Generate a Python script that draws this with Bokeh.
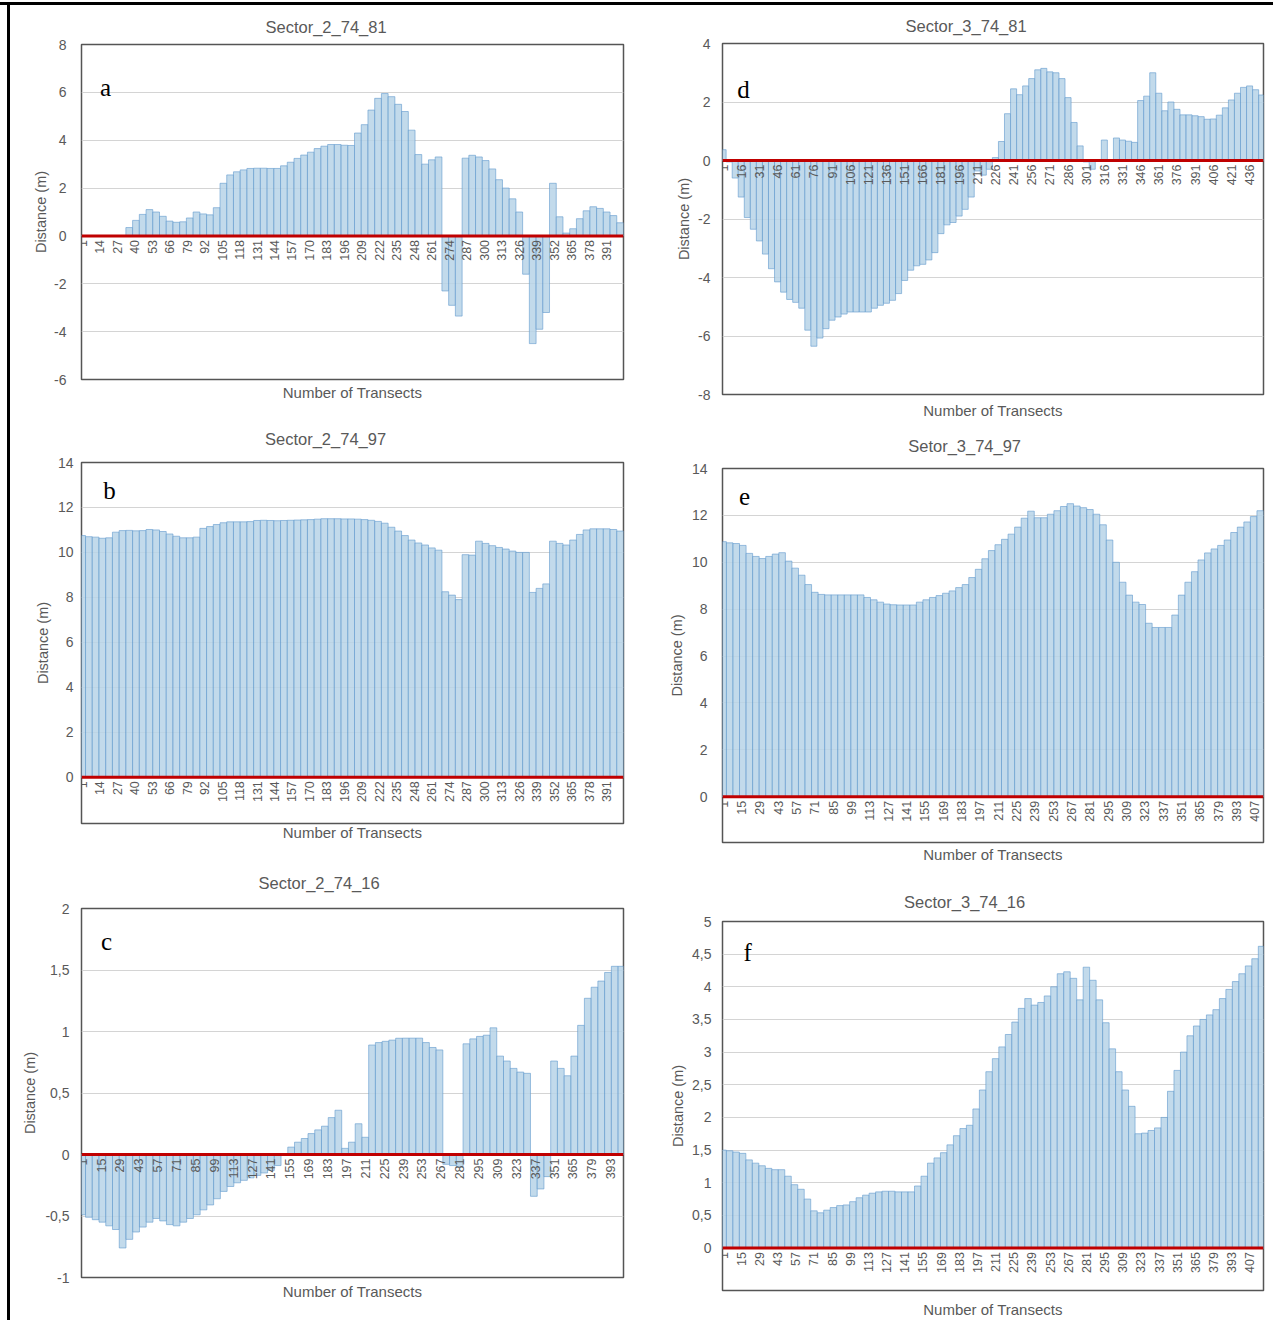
from math import pi
from bokeh.plotting import figure
from bokeh.layouts import row, column
from bokeh.models import FixedTicker, CustomJSTickFormatter, Span, Label, Div, Spacer
from bokeh.core.properties import value
from bokeh.embed import file_html
from bokeh.resources import INLINE

# ---------------- data (value read every 5th transect) ----------------
a_transects = list(range(1, 402, 5))
a_distance = [0, 0, 0, 0, 0, 0, 0.0, 0.35, 0.65, 0.9,
              1.1, 1.0, 0.82, 0.62, 0.57, 0.59, 0.75, 1.0, 0.92, 0.88,
              1.18, 2.2, 2.55, 2.68, 2.76, 2.82, 2.83, 2.83, 2.82, 2.82,
              2.93, 3.08, 3.24, 3.38, 3.5, 3.65, 3.75, 3.82, 3.82, 3.79,
              3.78, 4.3, 4.65, 5.26, 5.75, 5.95, 5.82, 5.5, 5.2, 4.42,
              3.4, 3.0, 3.18, 3.3, -2.3, -2.9, -3.35, 3.25, 3.37, 3.3,
              3.15, 2.8, 2.35, 2.0, 1.55, 1.0, -1.6, -4.5, -3.9, -3.2,
              2.2, 0.8, 0.12, 0.3, 0.72, 1.05, 1.22, 1.15, 1.0, 0.85,
              0.55]
a_ticks = list(range(1, 392, 13))

b_transects = list(range(1, 402, 5))
b_distance = [10.75, 10.7, 10.68, 10.63, 10.65, 10.9, 10.97, 10.98, 10.96, 10.97,
              11.02, 11.0, 10.93, 10.82, 10.72, 10.65, 10.65, 10.68, 11.07, 11.15,
              11.24, 11.32, 11.36, 11.36, 11.36, 11.37, 11.42, 11.43, 11.42, 11.41,
              11.42, 11.43, 11.44, 11.45, 11.46, 11.48, 11.5, 11.5, 11.5, 11.49,
              11.49, 11.48, 11.46, 11.43, 11.38, 11.3, 11.12, 10.95, 10.75, 10.55,
              10.42, 10.33, 10.2, 10.1, 8.25, 8.1, 7.9, 9.9, 9.88, 10.5,
              10.4, 10.3, 10.22, 10.15, 10.06, 10.0, 10.0, 8.22, 8.4, 8.6,
              10.5, 10.4, 10.33, 10.55, 10.8, 11.0, 11.05, 11.05, 11.05, 11.02,
              10.95]
b_ticks = list(range(1, 392, 13))

c_transects = list(range(1, 402, 5))
c_distance = [-0.49, -0.51, -0.53, -0.55, -0.58, -0.61, -0.76, -0.69, -0.63, -0.59,
              -0.55, -0.52, -0.54, -0.57, -0.58, -0.55, -0.52, -0.49, -0.45, -0.41,
              -0.36, -0.3, -0.26, -0.23, -0.21, -0.19, -0.17, -0.15, -0.13, -0.09,
              0.0, 0.06, 0.1, 0.13, 0.17, 0.2, 0.23, 0.3, 0.36, 0.05,
              0.1, 0.25, 0.14, 0.89, 0.91, 0.92, 0.93, 0.945, 0.946, 0.946,
              0.946, 0.91, 0.87, 0.85, -0.08, -0.09, -0.1, 0.9, 0.94, 0.96,
              0.97, 1.03, 0.8, 0.76, 0.7, 0.67, 0.66, -0.34, -0.28, -0.18,
              0.76, 0.7, 0.64, 0.8, 1.05, 1.27, 1.36, 1.41, 1.48, 1.53,
              1.53]
c_ticks = list(range(1, 394, 14))

d_transects = list(range(1, 447, 5))
d_distance = [0.37, -0.05, -0.6, -1.25, -1.95, -2.35, -2.75, -3.2, -3.7, -4.15,
              -4.5, -4.75, -4.85, -5.05, -5.8, -6.35, -6.07, -5.75, -5.46, -5.35,
              -5.25, -5.18, -5.18, -5.18, -5.18, -5.05, -4.95, -4.88, -4.78, -4.55,
              -4.1, -3.75, -3.6, -3.55, -3.4, -3.15, -2.5, -2.2, -2.12, -1.9,
              -1.67, -1.25, -0.36, -0.5, -0.3, 0.1, 0.65, 1.6, 2.45, 2.25,
              2.55, 2.8, 3.1, 3.15, 3.03, 3.0, 2.8, 2.15, 1.3, 0.5,
              -0.05, -0.3, 0.0, 0.7, 0.03, 0.77, 0.7, 0.66, 0.62, 2.05,
              2.2, 3.0, 2.3, 1.7, 2.0, 1.75, 1.56, 1.56, 1.53, 1.5,
              1.41, 1.42, 1.55, 1.8, 2.07, 2.3, 2.5, 2.55, 2.42, 2.24]
d_ticks = list(range(1, 437, 15))

e_transects = list(range(1, 412, 5))
e_distance = [10.88, 10.83, 10.8, 10.72, 10.38, 10.25, 10.16, 10.25, 10.35, 10.41,
              10.05, 9.75, 9.45, 9.05, 8.72, 8.63, 8.61, 8.61, 8.61, 8.61,
              8.61, 8.61, 8.5, 8.4, 8.3, 8.22, 8.19, 8.18, 8.18, 8.18,
              8.3, 8.4, 8.5, 8.58, 8.68, 8.78, 8.92, 9.05, 9.35, 9.7,
              10.15, 10.5, 10.75, 10.98, 11.2, 11.5, 11.88, 12.18, 11.9, 11.9,
              12.05, 12.2, 12.38, 12.5, 12.4, 12.33, 12.25, 12.05, 11.6, 10.95,
              10.0, 9.15, 8.6, 8.3, 8.2, 7.4, 7.22, 7.22, 7.22, 7.75,
              8.6, 9.15, 9.6, 10.1, 10.4, 10.57, 10.72, 10.95, 11.27, 11.5,
              11.72, 11.95, 12.2]
e_ticks = list(range(1, 408, 14))

f_transects = list(range(1, 417, 5))
f_distance = [1.5, 1.49, 1.47, 1.45, 1.35, 1.3, 1.26, 1.22, 1.2, 1.2,
              1.1, 0.97, 0.9, 0.75, 0.57, 0.54, 0.58, 0.62, 0.65, 0.66,
              0.71, 0.77, 0.81, 0.84, 0.86, 0.87, 0.87, 0.86, 0.86, 0.86,
              0.95, 1.1, 1.3, 1.38, 1.46, 1.58, 1.72, 1.83, 1.88, 2.13,
              2.42, 2.7, 2.9, 3.08, 3.27, 3.46, 3.67, 3.82, 3.72, 3.76,
              3.86, 4.0, 4.2, 4.23, 4.13, 3.8, 4.3, 4.1, 3.8, 3.45,
              3.05, 2.7, 2.42, 2.17, 1.75, 1.76, 1.8, 1.84, 2.0, 2.4,
              2.72, 3.0, 3.25, 3.4, 3.5, 3.57, 3.65, 3.82, 3.96, 4.08,
              4.2, 4.32, 4.43, 4.62]
f_ticks = list(range(1, 408, 14))

# ---------------- styling ----------------
FONT = "Liberation Sans"
GRAY = "#595959"
BAR_FILL = "#b7d4e8"
BAR_LINE = "#5f98cc"


def make_panel(title, xs, ys, ticks, n, yticks, ylim, letter, letter_pos, g):
    p = figure(width=g["w"], height=g["h"], x_range=(0.5, n + 0.5), y_range=ylim,
               output_backend="svg", toolbar_location=None,
               min_border_left=g["l"], min_border_right=g["r"],
               min_border_top=g["t"], min_border_bottom=g["b"])
    p.outline_line_color = "#555555"
    p.outline_line_width = 1.5
    p.background_fill_color = "white"
    p.border_fill_color = "white"

    p.title.text = title
    p.title.align = "left"
    p.title.offset = g["toff"]
    p.title.standoff = g["tst"]
    p.title.vertical_align = "bottom"
    p.title.text_font = FONT
    p.title.text_font_size = "16.5px"
    p.title.text_font_style = "normal"
    p.title.text_color = GRAY

    yt = FixedTicker(ticks=yticks)
    p.yaxis.ticker = yt
    p.ygrid.ticker = yt
    p.yaxis.formatter = CustomJSTickFormatter(code="return tick.toString().replace('.', ',');")
    p.yaxis.axis_line_color = None
    p.yaxis.major_tick_line_color = None
    p.yaxis.minor_tick_line_color = None
    p.yaxis.major_tick_out = 0
    p.yaxis.major_label_standoff = g["yls"]
    p.yaxis.major_label_text_font = FONT
    p.yaxis.major_label_text_font_size = "14px"
    p.yaxis.major_label_text_color = GRAY
    p.yaxis.axis_label = "Distance (m)"
    p.yaxis.axis_label_text_font = FONT
    p.yaxis.axis_label_text_font_size = "14.5px"
    p.yaxis.axis_label_text_font_style = "normal"
    p.yaxis.axis_label_text_color = GRAY
    p.yaxis.axis_label_standoff = g["yas"]

    p.xaxis.ticker = FixedTicker(ticks=[])
    p.xaxis.axis_line_color = None
    p.xaxis.major_tick_line_color = None
    p.xaxis.minor_tick_line_color = None
    p.xaxis.major_tick_out = 0
    p.xaxis.major_label_standoff = 0
    p.xaxis.axis_label = "Number of Transects"
    p.xaxis.axis_label_text_font = FONT
    p.xaxis.axis_label_text_font_size = "15px"
    p.xaxis.axis_label_text_font_style = "normal"
    p.xaxis.axis_label_text_color = GRAY
    p.xaxis.axis_label_standoff = g["xas"]

    p.xgrid.grid_line_color = None
    p.ygrid.grid_line_color = "#d4d4d4"
    p.ygrid.grid_line_width = 1

    p.vbar(x=xs, top=ys, bottom=0, width=5, fill_color=BAR_FILL, fill_alpha=0.85,
           line_color=BAR_LINE, line_width=0.8, line_alpha=0.75)

    p.add_layout(Span(location=0, dimension="width", line_color="#c00000", line_width=3))

    p.text(x=ticks, y=[0] * len(ticks), text=[str(t) for t in ticks], angle=pi / 2,
           text_align="right", text_baseline="middle", y_offset=4,
           text_font=value(FONT), text_font_size="12.5px", text_color=GRAY)

    p.add_layout(Label(x=letter_pos[0], y=letter_pos[1], text=letter,
                       text_font="Liberation Serif", text_font_size="25px",
                       text_color="black", text_align="center", text_baseline="middle"))
    return p


# left column: frames x 81..623 ; right column: frames x 722..1263
pa = make_panel("Sector_2_74_81", a_transects, a_distance, a_ticks, 403,
                [-6, -4, -2, 0, 2, 4, 6, 8], (-6, 8), "a", (18.3, 6.22),
                dict(w=635, h=408, l=71, r=22, t=39, b=34, tst=18, toff=184,
                     yls=15, yas=2, xas=4))
pb = make_panel("Sector_2_74_97", b_transects, b_distance, b_ticks, 403,
                [0, 2, 4, 6, 8, 10, 12, 14], (-2.06, 14), "b", (21.3, 12.75),
                dict(w=635, h=442, l=71, r=22, t=49, b=32, tst=29, toff=183.5,
                     yls=8, yas=4, xas=0))
pc = make_panel("Sector_2_74_16", c_transects, c_distance, c_ticks, 402,
                [-1, -0.5, 0, 0.5, 1, 1.5, 2], (-1, 2), "c", (19.0, 1.73),
                dict(w=635, h=465, l=71, r=22, t=53, b=43, tst=33, toff=177,
                     yls=12, yas=4, xas=5))
pd_ = make_panel("Sector_3_74_81", d_transects, d_distance, d_ticks, 447,
                 [-8, -6, -4, -2, 0, 2, 4], (-8, 4), "d", (17.9, 2.44),
                 dict(w=627, h=416, l=77, r=9, t=38, b=25, tst=18, toff=183,
                      yls=12, yas=3, xas=7))
pe = make_panel("Setor_3_74_97", e_transects, e_distance, e_ticks, 413,
                [0, 2, 4, 6, 8, 10, 12, 14], (-1.95, 14), "e", (17.3, 12.8),
                dict(w=627, h=459, l=77, r=9, t=47, b=38, tst=27, toff=185.7,
                     yls=15, yas=4, xas=3))
pf = make_panel("Sector_3_74_16", f_transects, f_distance, f_ticks, 417,
                [0, 0.5, 1, 1.5, 2, 2.5, 3, 3.5, 4, 4.5, 5], (-0.65, 5), "f", (19.8, 4.53),
                dict(w=627, h=440, l=77, r=9, t=41, b=28, tst=21, toff=181.6,
                     yls=11, yas=3, xas=10))

top_line = Div(text="", width=1273, height=3, margin=0, styles={"background-color": "black"})
left_line = Div(text="", width=3, height=1315, margin=0, styles={"background-color": "black"})

layout = column(
    Spacer(width=1273, height=2),
    top_line,
    row(Spacer(width=7, height=1315), left_line, column(pa, pb, pc), column(pd_, pe, pf)),
)

open("out.html", "w").write(file_html(layout, INLINE))
